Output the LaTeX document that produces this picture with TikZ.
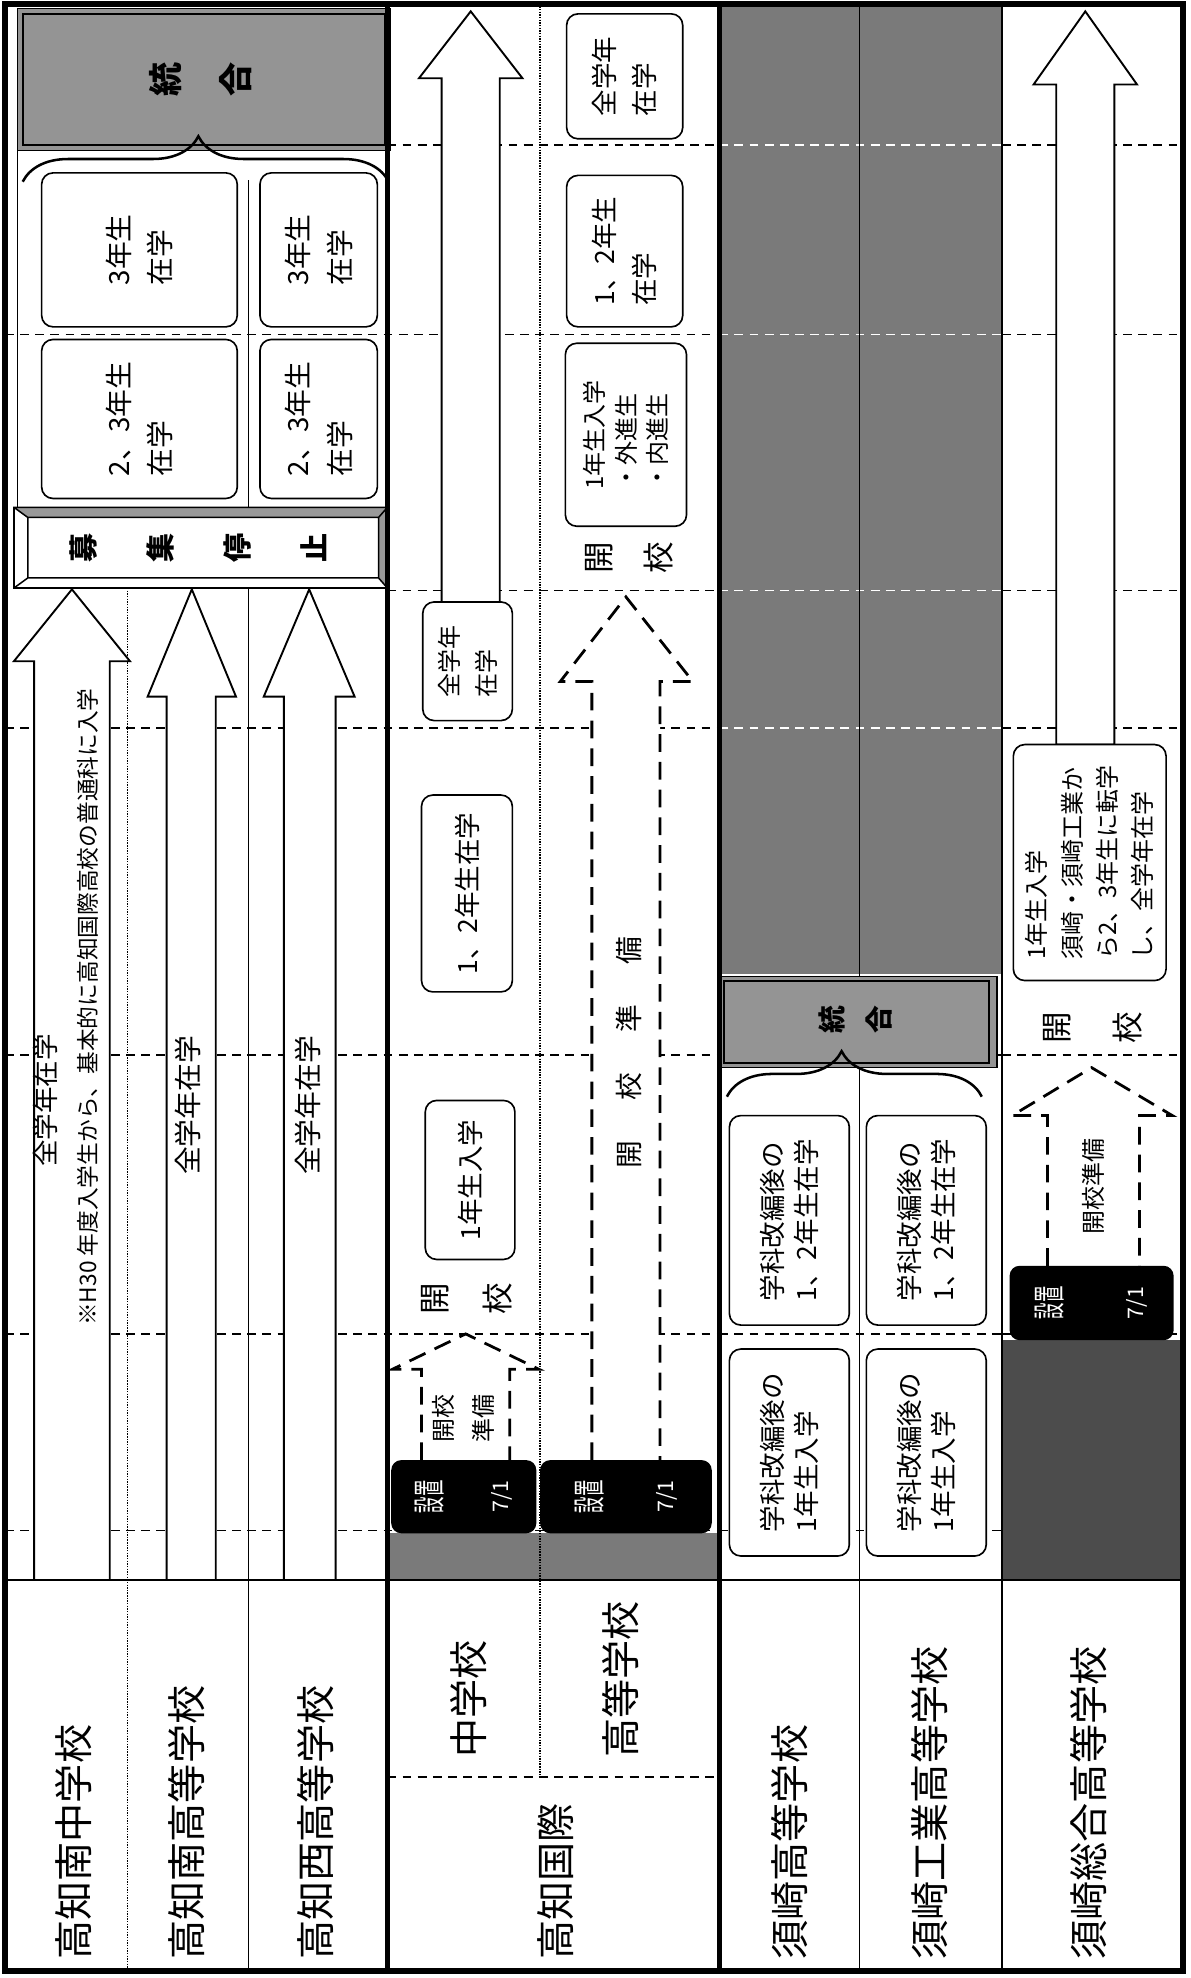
\documentclass[tikz,border=0pt]{standalone}
\usepackage{fontspec}
\setmainfont{Noto Sans CJK JP}
\usetikzlibrary{decorations.pathreplacing}

\tikzset{
  tline/.style={line width=1.1pt, dash pattern=on 7pt off 5pt},
  gline/.style={tline, white},
  rowline/.style={line width=1pt},
  dotrow/.style={line width=1.1pt, densely dotted},
  divider/.style={line width=3.5pt},
  blockarrow/.style={draw, fill=white, line width=1.5pt, line join=miter},
  dasharrow/.style={draw, fill=white, line width=2.2pt, dash pattern=on 14pt off 8pt},
  stagebox/.style={draw, fill=white, rounded corners=9pt, line width=1.3pt, rotate=90, align=left, inner sep=2pt},
  setbox/.style={fill=black, rounded corners=8pt, rotate=90, text=white, align=center, inner sep=2pt, font=\fontsize{17}{53}\selectfont},
  rowlabel/.style={rotate=90, anchor=west, inner sep=0pt, font=\fontsize{31}{31}\selectfont},
  vtext/.style={rotate=90, inner sep=0pt, align=center},
  mergebrace/.style={decorate, decoration={brace, amplitude=36pt, aspect=#1}, line width=2pt}
}

\begin{document}
\begin{tikzpicture}[x=1pt, y=-1pt]
\useasboundingbox (0,0) rectangle (943,1567.4);
\fill[white] (0,0) rectangle (943,1567.4);

\fill[black!52] (570,3) rectangle (794,772);
\fill[black!52] (307,1215) rectangle (570,1252);

\foreach \y in {265,577,836,1057,1213} \draw[tline] (4,\y) -- (570,\y);
\foreach \y in {115,468} \draw[tline] (307,\y) -- (570,\y);
\foreach \y in {836,1057,1213} \draw[tline] (570,\y) -- (794,\y);
\foreach \y in {115,265,468,577} \draw[gline] (570,\y) -- (794,\y);
\foreach \y in {115,265,468,577,836,1057,1213} \draw[tline] (794,\y) -- (937,\y);

\fill[black!70] (794,1062) rectangle (937,1252);

\draw[dotrow] (101,466) -- (101,1562);
\draw[rowline] (197,143) -- (197,1562);
\draw[rowline] (14,119) -- (14,402);
\draw[dotrow] (428,3) -- (428,1408);
\draw[tline] (307,1408) -- (570,1408);
\draw[rowline] (681,3) -- (681,1562);
\draw[rowline] (794,3) -- (794,1562);
\draw[line width=2pt] (4,1252) -- (937,1252);

\draw[blockarrow] (27,1252) -- (27,524) -- (11,524) -- (57,467) -- (103,524) -- (87,524) -- (87,1252) -- cycle;
\draw[blockarrow] (132,1252) -- (132,552) -- (117,552) -- (152,467) -- (187,552) -- (171,552) -- (171,1252) -- cycle;
\draw[blockarrow] (225,1252) -- (225,552) -- (209,552) -- (245,467) -- (281,552) -- (266,552) -- (266,1252) -- cycle;
\draw[blockarrow] (350,477) -- (350,62) -- (332,62) -- (373,9) -- (414,62) -- (396,62) -- (396,477) -- cycle;
\draw[blockarrow] (837,590) -- (837,67) -- (819,67) -- (860,9) -- (901,67) -- (883,67) -- (883,590) -- cycle;

\draw[dasharrow] (334,1157) -- (334,1085) -- (311,1085) -- (369,1057) -- (427,1085) -- (404,1085) -- (404,1157);
\draw[dasharrow] (469,1157) -- (469,540) -- (444,540) -- (496,473) -- (549,540) -- (523,540) -- (523,1157);
\draw[dasharrow] (830,1003) -- (830,884) -- (802,884) -- (865,846) -- (929,884) -- (903,884) -- (903,1003);

\node[rowlabel] (nanchu) at (58,1553) {高知南中学校};
\node[rowlabel] (nanko) at (148,1553) {高知南高等学校};
\node[rowlabel] (nishiko) at (250,1553) {高知西高等学校};
\node[rowlabel] (kokusai) at (440,1553) {高知国際};
\node[rowlabel] (kchu) at (371,1393) {中学校};
\node[rowlabel] (kko) at (492,1393) {高等学校};
\node[rowlabel] (susaki) at (626,1553) {須崎高等学校};
\node[rowlabel] (kogyo) at (737,1553) {須崎工業高等学校};
\node[rowlabel] (sogo) at (863,1553) {須崎総合高等学校};

\node[vtext, font=\fontsize{21}{21}\selectfont] (zen1) at (36,872) {全学年在学};
\node[vtext, font=\fontsize{18}{18}\selectfont] (note1) at (70,798) {※H30 年度入学生から、基本的に高知国際高校の普通科に入学};
\node[vtext, font=\fontsize{22}{22}\selectfont] (zen2) at (149,876) {全学年在学};
\node[vtext, font=\fontsize{22}{22}\selectfont] (zen3) at (244,876) {全学年在学};

\node[stagebox, minimum width=122pt, minimum height=155pt, font=\fontsize{22}{33}\selectfont] (s3a) at (110.5,198) {3年生\\在学};
\node[stagebox, minimum width=122pt, minimum height=93pt, font=\fontsize{22}{33}\selectfont] (s3b) at (252.5,198) {3年生\\在学};
\node[stagebox, minimum width=126pt, minimum height=155pt, font=\fontsize{22}{33}\selectfont] (s23a) at (110.5,332) {2、3年生\\在学};
\node[stagebox, minimum width=126pt, minimum height=93pt, font=\fontsize{22}{33}\selectfont] (s23b) at (252.5,332) {2、3年生\\在学};

\node[stagebox, minimum width=94pt, minimum height=71pt, font=\fontsize{19}{29}\selectfont] (mzen) at (370.5,524) {全学年\\在学};
\node[stagebox, minimum width=156pt, minimum height=72pt, font=\fontsize{21}{21}\selectfont] (m12) at (370,708) {1、2年生在学};
\node[stagebox, minimum width=126pt, minimum height=71pt, font=\fontsize{21}{21}\selectfont] (m1) at (372.5,935) {1年生入学};
\node[stagebox, minimum width=99pt, minimum height=92pt, font=\fontsize{21}{32}\selectfont] (hzen) at (495,60.5) {全学年\\在学};
\node[stagebox, minimum width=120pt, minimum height=92pt, font=\fontsize{21}{32}\selectfont] (h12) at (495,199) {1、2年生\\在学};
\node[stagebox, minimum width=145pt, minimum height=96pt, font=\fontsize{19}{25}\selectfont] (h1) at (496,344.5) {1年生入学\\・外進生\\・内進生};

\node[stagebox, minimum width=166pt, minimum height=95pt, font=\fontsize{21}{27}\selectfont] (k12a) at (625.5,967) {学科改編後の\\1、2年生在学};
\node[stagebox, minimum width=166pt, minimum height=95pt, font=\fontsize{21}{27}\selectfont] (k12b) at (734,967) {学科改編後の\\1、2年生在学};
\node[stagebox, minimum width=164pt, minimum height=95pt, font=\fontsize{21}{27}\selectfont] (k1a) at (625.5,1151) {学科改編後の\\1年生入学};
\node[stagebox, minimum width=164pt, minimum height=95pt, font=\fontsize{21}{27}\selectfont] (k1b) at (734,1151) {学科改編後の\\1年生入学};
\node[stagebox, minimum width=187pt, minimum height=121pt, font=\fontsize{19}{28}\selectfont] (sogo1) at (863.5,683.5) {1年生入学\\須崎・須崎工業か\\ら2、3年生に転学\\し、全学年在学};

\node[setbox, minimum width=58pt, minimum height=115pt] (set1) at (367.5,1186) {\scalebox{0.5}[1]{\fontsize{26}{26}\selectfont 設置}\\7/1};
\node[setbox, minimum width=58pt, minimum height=136pt] (set2) at (496,1186) {\scalebox{0.5}[1]{\fontsize{26}{26}\selectfont 設置}\\[4pt]7/1};
\node[setbox, minimum width=59pt, minimum height=130pt] (set3) at (865,1032.5) {\scalebox{0.5}[1]{\fontsize{26}{26}\selectfont 設置}\\[12pt]7/1};

\node[vtext, font=\fontsize{25}{50}\selectfont] (open1) at (370,1029) {開\\校};
\node[vtext, font=\fontsize{25}{47}\selectfont] (open2) at (498.5,442) {開\\校};
\node[vtext, font=\fontsize{25}{56}\selectfont] (open3) at (866,814) {開\\校};
\node[vtext, font=\fontsize{19}{32}\selectfont] (prep1) at (367,1124) {開校\\準備};
\node[vtext, font=\fontsize{22}{22}\selectfont] (prep2) at (498,834) {開\hspace{32pt}校\hspace{32pt}準\hspace{32pt}備};
\node[vtext, font=\fontsize{19}{19}\selectfont] (prep3) at (866,940) {開校準備};

\draw[line width=1.2pt, fill=white] (11,402) rectangle (307,466);
\fill[black!40] (11,402) -- (307,402) -- (300,410) -- (22,410) -- cycle;
\fill[black!40] (307,402) -- (307,466) -- (300,458) -- (300,410) -- cycle;
\draw[line width=1.2pt] (11,402) rectangle (307,466) (22,410) rectangle (300,458) (11,402) -- (22,410) (307,402) -- (300,410) (11,466) -- (22,458) (307,466) -- (300,458);
\node[vtext, font=\fontsize{23}{61}\selectfont\bfseries] (stop) at (157,434) {募\\集\\停\\止};

\draw[fill=black!42, line width=1pt] (14,7) rectangle (309,119);
\draw[line width=1.6pt] (18,11) rectangle (305,115);
\node[vtext, font=\fontsize{27}{56}\selectfont\bfseries] (merge1) at (159,63) {統\\合};
\draw[mergebrace=0.48] (18,144) -- (308,144);

\draw[fill=black!42, line width=1pt] (570,774) rectangle (790,846);
\draw[line width=1.6pt] (574,777) rectangle (784,842);
\node[vtext, font=\fontsize{22}{37}\selectfont\bfseries] (merge2) at (678,808) {統\\合};
\draw[mergebrace=0.45] (576,869) -- (778,869);

\draw[divider] (307,3) -- (307,1562);
\draw[divider] (570,3) -- (570,1562);
\draw[line width=5pt] (4,3) rectangle (937.5,1562);
\end{tikzpicture}
\end{document}
